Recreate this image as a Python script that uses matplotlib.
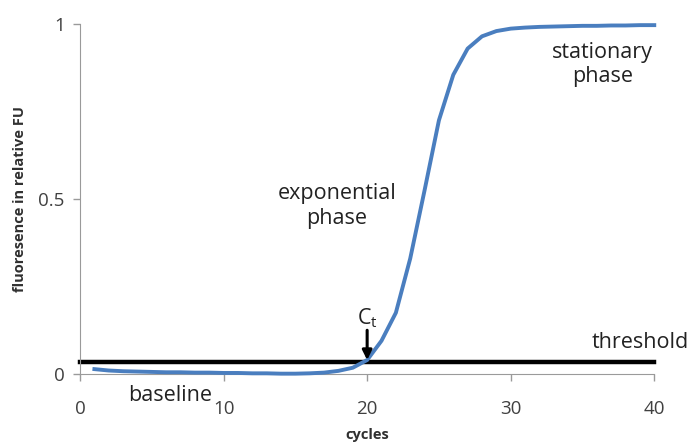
import numpy as np
import matplotlib.pyplot as plt

# qPCR amplification curve
cycles = [1, 2, 3, 4, 5, 6, 7, 8, 9, 10, 11, 12, 13, 14, 15, 16, 17, 18, 19, 20,
          21, 22, 23, 24, 25, 26, 27, 28, 29, 30, 31, 32, 33, 34, 35, 36, 37, 38, 39, 40]
fluor = [0.014, 0.010, 0.008, 0.007, 0.006, 0.005, 0.005, 0.004, 0.004, 0.003,
         0.003, 0.002, 0.002, 0.001, 0.001, 0.002, 0.004, 0.009, 0.018, 0.040,
         0.095, 0.175, 0.330, 0.525, 0.725, 0.855, 0.930, 0.965, 0.980, 0.987,
         0.990, 0.992, 0.993, 0.994, 0.995, 0.995, 0.996, 0.996, 0.997, 0.997]
threshold = 0.034
ct = 20

xticks = [0, 10, 20, 30, 40]
yticks = [0, 0.5, 1]
ytick_labels = ['0', '0.5', '1']

plt.rcParams['font.family'] = ['Open Sans', 'DejaVu Sans']

fig = plt.figure(figsize=(6.99, 4.46), dpi=100)
ax = fig.add_axes([0.1145, 0.1614, 0.8215, 0.7846])

ax.plot([0, 40], [threshold, threshold], color='black', lw=3.2, zorder=2, clip_on=False)
ax.plot(cycles, fluor, color='#4a7ebf', lw=2.8, zorder=3, clip_on=False)

ax.set_xlim(0, 40)
ax.set_ylim(0, 1)
ax.set_xticks(xticks)
ax.set_yticks(yticks)
ax.set_yticklabels(ytick_labels)
ax.tick_params(colors='#9a9a9a', labelcolor='#404040', labelsize=13.5, length=5, width=1)
ax.tick_params(axis='x', pad=14)
ax.tick_params(axis='y', pad=6)
for s in ['top', 'right']:
    ax.spines[s].set_visible(False)
for s in ['left', 'bottom']:
    ax.spines[s].set_color('#9a9a9a')

ax.set_xlabel('cycles', fontsize=10.5, fontweight='bold', color='#303030', labelpad=7)
ax.set_ylabel('fluoresence in relative FU', fontsize=10.5, fontweight='bold', color='#303030', labelpad=8)

txt = dict(fontsize=15.5, color='#222222', ha='center', va='center')
ax.text(36.4, 0.885, 'stationary\nphase', linespacing=1.2, **txt)
ax.text(17.9, 0.48, 'exponential\nphase', linespacing=1.2, **txt)
ax.text(6.3, -0.06, 'baseline', clip_on=False, **txt)
ax.text(39.0, 0.09, 'threshold', **txt)
ax.text(ct, 0.16, 'C$_\\mathregular{t}$', **txt)
ax.annotate('', xy=(ct, threshold + 0.006), xytext=(ct, 0.125),
            arrowprops=dict(arrowstyle='-|>', color='black', lw=2.2,
                            shrinkA=0, shrinkB=0, mutation_scale=14))

fig.savefig('out.png', dpi=100)
